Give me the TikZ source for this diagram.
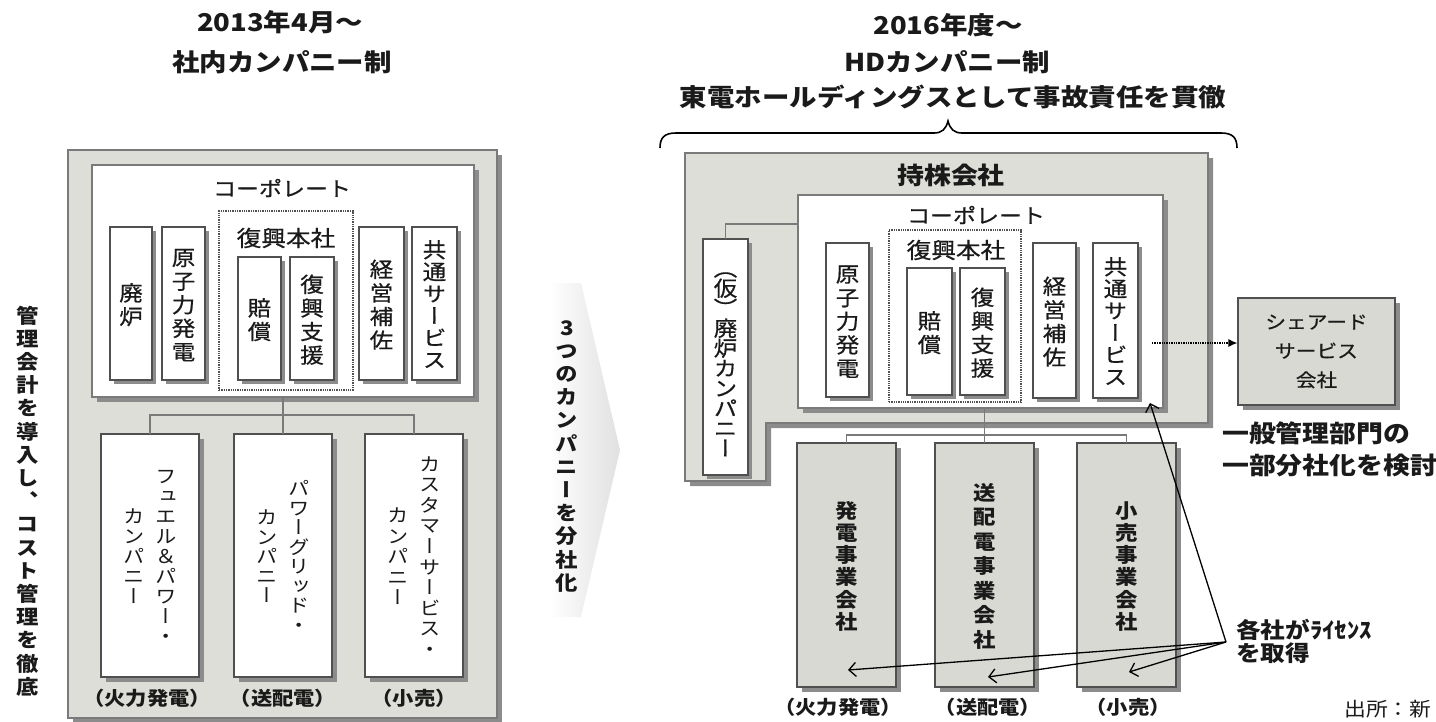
\documentclass[tikz,border=0pt]{standalone}
\usepackage{fontspec}
\setmainfont{Noto Sans CJK JP}[FakeStretch=1.12]
\newfontfamily\vjp{Noto Sans CJK JP}[FakeStretch=1.12,RawFeature=+vert]
\newfontfamily\vjpm{Noto Sans CJK JP}[FakeStretch=1.12,RawFeature=+vert,FakeBold=0.6]
\newfontfamily\jpm{Noto Sans CJK JP}[FakeStretch=1.12,FakeBold=0.6]
\usetikzlibrary{shadows,arrows.meta}
\definecolor{boxgray}{HTML}{DEDED9}
\definecolor{subgray}{HTML}{D9D9D4}
\definecolor{shadowc}{HTML}{8C8C8C}
\definecolor{edge}{HTML}{7A7A7A}
\definecolor{dedge}{HTML}{505050}
\definecolor{txt}{HTML}{1A1A1A}
\newcommand\fs[1]{\fontsize{#1}{#1}\selectfont}
\makeatletter
\newdimen\vtp
\newcommand\vt[2]{\vbox{\offinterlineskip\XeTeXuseglyphmetrics=0\relax
  \vtp=#1\relax
  \@tfor\vt@c:=#2\do{\hbox to 1.3em{\hss\vbox to\vtp{\vss\hbox{\vt@c}\vss}\hss}}}}
\newcommand\vtwo[4]{$\vcenter{\vt{#1}{#3}}\hskip#2\vcenter{\vt{#1}{#4}}$}
\makeatother
\begin{document}
\begin{tikzpicture}[x=1pt,y=-1pt,
  shd/.style={drop shadow={shadow xshift=5pt,shadow yshift=-5pt,fill=shadowc,opacity=1}},
  sshd/.style={drop shadow={shadow xshift=3.5pt,shadow yshift=-3.5pt,fill=shadowc,opacity=1}},
  outerbox/.style={draw=edge,fill=boxgray,line width=1.3pt,shd,inner sep=0pt,outer sep=0pt},
  corpbox/.style={draw=edge,fill=white,line width=1.3pt,shd,inner sep=0pt,outer sep=0pt},
  unitbox/.style={draw=dedge,fill=white,line width=1.1pt,sshd,inner sep=0pt,outer sep=0pt,text=txt},
  dotbox/.style={draw=dedge,densely dotted,line width=1.3pt,inner sep=0pt,outer sep=0pt},
  compbox/.style={draw=dedge,fill=white,line width=1.1pt,shd,inner sep=0pt,outer sep=0pt,minimum width=98pt,minimum height=243pt,text=txt},
  subbox/.style={draw=dedge,fill=subgray,line width=1.1pt,shd,inner sep=0pt,outer sep=0pt,minimum width=99pt,minimum height=244pt,text=txt},
  conn/.style={draw=edge,line width=1.1pt},
  title/.style={inner sep=0pt,font=\bfseries\fs{24.5},text=txt},
  lbl/.style={inner sep=0pt,font=\bfseries\fs{19},text=txt},
  plain/.style={inner sep=0pt,text=txt},
  barb/.style={draw=black,line width=1.3pt,-{Straight Barb[length=7pt,width=14pt,line width=1.3pt]}}
]
\useasboundingbox (0,0) rectangle (1436,721);

% ---------- left titles ----------
\node[title] (t1a) at (280,22) {2013年4月～};
\node[title] (t1b) at (282,62) {社内カンパニー制};

% ---------- left panel ----------
\node[outerbox,minimum width=429pt,minimum height=568pt] (outerL) at (282.5,434) {};
\node[corpbox,minimum width=382pt,minimum height=232pt] (corpL) at (283,281) {};
\node[plain,font=\jpm\fs{20.5}] (corpLt) at (282,188) {コーポレート};
\node[unitbox,minimum width=42pt,minimum height=153pt] (hairoL) at (131,303.5) {\vjpm\fs{21}\vt{23.6pt}{廃炉}};
\node[unitbox,minimum width=43pt,minimum height=153pt] (genshiL) at (183.5,303.5) {\vjpm\fs{21}\vt{23.6pt}{原子力発電}};
\node[dotbox,minimum width=134pt,minimum height=179pt] (fukkoL) at (286,300.5) {};
\node[plain,font=\jpm\fs{22}] (fukkoLt) at (286,238) {復興本社};
\node[unitbox,minimum width=43pt,minimum height=123pt] (baishoL) at (259.5,318.5) {\vjpm\fs{21}\vt{23.6pt}{賠償}};
\node[unitbox,minimum width=44pt,minimum height=123pt] (shienL) at (312,318.5) {\vjpm\fs{21}\vt{23.6pt}{復興支援}};
\node[unitbox,minimum width=45pt,minimum height=153pt] (keieiL) at (381.5,303.5) {\vjpm\fs{21}\vt{23.6pt}{経営補佐}};
\node[unitbox,minimum width=45pt,minimum height=153pt] (kyotsuL) at (434.5,303.5) {\vjpm\fs{21}\vt{22pt}{共通サービス}};

\node[compbox] (fuelL) at (150,555.5) {\vjp\fs{19}\vtwo{20pt}{8pt}{カンパニー}{フュエル＆パワー・}};
\node[compbox] (gridL) at (283,555.5) {\vjp\fs{19}\vtwo{19.5pt}{8pt}{カンパニー}{パワーグリッド・}};
\node[compbox] (custL) at (414,555.5) {\vjp\fs{19}\vtwo{20.6pt}{8pt}{カンパニー}{カスタマーサービス・}};

\coordinate (jL) at (283,415);
\draw[conn] (corpL.south) -- (jL);
\draw[conn] (fuelL.north) |- (jL) -| (custL.north);
\draw[conn] (jL) -- (gridL.north);

\node[lbl] (l1L) at (147,698) {（火力発電）};
\node[lbl] (l2L) at (283,698) {（送配電）};
\node[lbl] (l3L) at (414,698) {（小売）};

\node[plain] (kanri) at (28,500) {\vjp\bfseries\fs{20}\vt{23.2pt}{管理会計を導入し、コスト管理を徹底}};

% ---------- chevron ----------
\path[left color=white,right color=black!12] (549,283) -- (581,283) -- (620,450) -- (581,617) -- (549,617) -- cycle;
\node[plain] (bunsha) at (567,454) {\vjp\bfseries\fs{20}\vt{23.2pt}{3つのカンパニーを分社化}};

% ---------- right titles ----------
\node[title] (t2a) at (948,25) {2016年度～};
\node[title] (t2b) at (947,62) {HDカンパニー制};
\node[title] (t2c) at (953,97) {東電ホールディングスとして事故責任を貫徹};
\draw[line width=1.6pt] (660,148) .. controls (660,138) and (664,133) .. (676,133) -- (934,133)
  .. controls (942,133) and (946,129) .. (948,121) .. controls (950,129) and (954,133) .. (962,133)
  -- (1221,133) .. controls (1233,133) and (1237,138) .. (1237,148);

% ---------- right panel ----------
\path[outerbox] (685,153) -- (1208,153) -- (1208,423) -- (766,423) -- (766,481) -- (685,481) -- cycle;
\node[plain,font=\bfseries\fs{24}] (mochikabu) at (951,175) {持株会社};
\node[corpbox,minimum width=365pt,minimum height=213pt] (corpR) at (980.5,301.5) {};
\node[plain,font=\jpm\fs{20.5}] (corpRt) at (976,215) {コーポレート};
\node[unitbox,minimum width=45pt,minimum height=236pt] (hairoR) at (725.5,357)
  {\vjpm\fs{21}\vt{20pt}{︵仮︶廃炉カンパニー}};
\draw[conn] (hairoR.north) |- ([yshift=-29pt]corpR.north west);
\node[unitbox,minimum width=43pt,minimum height=154pt] (genshiR) at (847.5,320) {\vjpm\fs{21}\vt{23.6pt}{原子力発電}};
\node[dotbox,minimum width=132pt,minimum height=172pt] (fukkoR) at (955,316) {};
\node[plain,font=\jpm\fs{22}] (fukkoRt) at (956,250) {復興本社};
\node[unitbox,minimum width=45pt,minimum height=127pt] (baishoR) at (929.5,331.5) {\vjpm\fs{21}\vt{23.6pt}{賠償}};
\node[unitbox,minimum width=45pt,minimum height=127pt] (shienR) at (982.5,331.5) {\vjpm\fs{21}\vt{23.6pt}{復興支援}};
\node[unitbox,minimum width=43pt,minimum height=155pt] (keieiR) at (1054.5,320.5) {\vjpm\fs{21}\vt{23.6pt}{経営補佐}};
\node[unitbox,minimum width=45pt,minimum height=155pt] (kyotsuR) at (1115.5,320.5) {\vjpm\fs{21}\vt{22pt}{共通サービス}};

\node[subbox] (genR) at (846.5,565) {\vjp\bfseries\fs{20}\vt{22.2pt}{発電事業会社}};
\node[subbox] (soR) at (984.5,565) {\vjp\bfseries\fs{20}\vt{24.5pt}{送配電事業会社}};
\node[subbox] (koR) at (1126.5,565) {\vjp\bfseries\fs{20}\vt{22.2pt}{小売事業会社}};

\coordinate (jR) at (984.5,435);
\draw[conn] (corpR.south -| soR.north) -- (soR.north);
\draw[conn] (genR.north) |- (jR) -| (koR.north);

\node[lbl] (l1R) at (838,707) {（火力発電）};
\node[lbl] (l2R) at (988,707) {（送配電）};
\node[lbl] (l3R) at (1128,707) {（小売）};

\node[draw=dedge,fill=subgray,line width=1.1pt,shd,minimum width=157pt,minimum height=107pt,
  align=center,font=\jpm\fontsize{18.5}{29}\selectfont,inner sep=0pt,text=txt] (share) at (1316.5,351.5)
  {シェアード\\サービス\\会社};
\coordinate (dstart) at (1152,343);
\draw[densely dotted,line width=1.4pt,-{Latex[length=9pt,width=8pt]}] (dstart) -- (share.west |- dstart);
\node[plain,anchor=west,align=left,font=\bfseries\fontsize{24}{32}\selectfont] (kento) at (1222,449)
  {一般管理部門の\\一部分社化を検討};

\coordinate (lic) at (1226,642);
\node[plain,anchor=west,align=left,font=\bfseries\fontsize{22}{23}\selectfont] (lict) at (1236,641.5)
  {各社がﾗｲｾﾝｽ\\を取得};
\coordinate (a0) at (1150,403);
\coordinate (a1) at (848,670);
\coordinate (a2) at (988,677);
\coordinate (a3) at (1129,672);
\draw[barb] (lic) -- (a0);
\draw[barb] (lic) -- (a1);
\draw[barb] (lic) -- (a2);
\draw[barb] (lic) -- (a3);

\node[plain,anchor=west,font=\fs{19.5}] (src) at (1344,709) {出所：新};
\end{tikzpicture}
\end{document}
